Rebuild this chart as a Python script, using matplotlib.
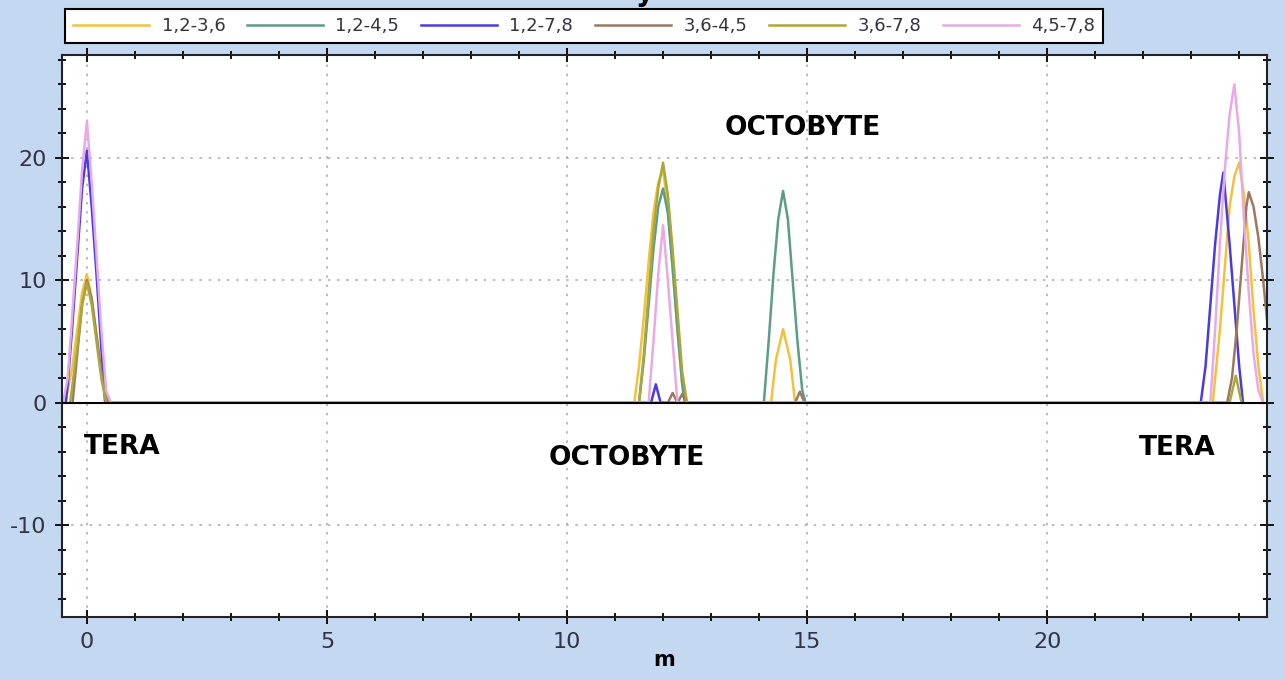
import matplotlib.pyplot as plt
from matplotlib.ticker import MultipleLocator

plt.rcParams['font.family'] = ['DejaVu Sans']
plt.rcParams['axes.unicode_minus'] = False

labels = ['1,2-3,6', '1,2-4,5', '1,2-7,8', '3,6-4,5', '3,6-7,8', '4,5-7,8']
colors = ['#f2c23c', '#5c9c88', '#4a3ae0', '#9c7860', '#a9a83a', '#e8aae6']

# each series: x points and y points (peaks near 0, 12, 14.5 and 24 m)
x_a = [-0.45, -0.3, -0.2, -0.1, 0.0, 0.1, 0.2, 0.3, 0.4,
       11.4, 11.5, 11.6, 11.7, 11.8, 11.9, 12.0, 12.1, 12.2, 12.3, 12.4, 12.5,
       14.25, 14.35, 14.5, 14.65, 14.75,
       23.45, 23.6, 23.7, 23.8, 23.9, 24.0, 24.1, 24.2, 24.3, 24.4, 24.5]
y_a = [0, 3, 6, 9, 10.5, 8.5, 5.5, 2.5, 0,
       0, 3, 7, 11.5, 15.5, 18, 19, 16, 11, 6, 1.5, 0,
       0, 3.5, 6, 3.5, 0,
       0, 6, 11, 16, 18.5, 19.6, 17, 13, 7.5, 3, 0]

x_b = [11.5, 11.6, 11.7, 11.8, 11.9, 12.0, 12.1, 12.2, 12.3, 12.4, 12.45,
       14.1, 14.2, 14.3, 14.4, 14.5, 14.6, 14.7, 14.8, 14.9, 14.97]
y_b = [0, 3.5, 8, 12.5, 16, 17.5, 15.5, 11, 6, 1.5, 0,
       0, 5, 10.5, 15, 17.3, 15, 10, 5, 1, 0]

x_c = [-0.44, -0.4, -0.3, -0.2, -0.1, 0.0, 0.1, 0.2, 0.3, 0.38,
       11.75, 11.85, 11.95,
       23.2, 23.3, 23.4, 23.5, 23.6, 23.67, 23.8, 23.9, 24.0, 24.08]
y_c = [0, 1.5, 6.5, 12, 17.5, 20.6, 16, 10.5, 4.5, 0,
       0, 1.5, 0,
       0, 3, 8, 13, 17, 18.8, 13, 8, 3, 0]

x_d = [-0.3, -0.2, -0.1, 0.0, 0.1, 0.2, 0.3, 0.4, 0.45,
       12.1, 12.2, 12.3, 12.4, 12.5,
       14.75, 14.85, 14.95,
       23.75, 23.85, 23.95, 24.05, 24.15, 24.2, 24.3, 24.4, 24.5, 24.6]
y_d = [0, 4, 8, 10, 8.5, 5.5, 2.5, 0.5, 0,
       0, 0.8, 0, 0.7, 0,
       0, 0.9, 0,
       0, 2, 6, 11, 16, 17.2, 16, 13.5, 10, 6]

x_e = [-0.35, -0.2, -0.1, 0.0, 0.1, 0.2, 0.3, 0.4,
       11.5, 11.6, 11.7, 11.8, 11.9, 12.0, 12.1, 12.2, 12.3, 12.4, 12.5,
       23.8, 23.93, 24.05]
y_e = [0, 4.5, 8, 9.8, 8, 5, 2, 0,
       0, 4, 9, 14, 17.5, 19.6, 17, 12.5, 7.5, 2.5, 0,
       0, 2.2, 0]

x_f = [-0.5, -0.4, -0.3, -0.2, -0.1, 0.0, 0.1, 0.2, 0.3, 0.4, 0.5,
       11.7, 11.8, 11.9, 12.0, 12.1, 12.2, 12.3,
       23.4, 23.5, 23.6, 23.7, 23.8, 23.9, 24.0, 24.1, 24.2, 24.3, 24.4, 24.5]
y_f = [0, 2, 7.5, 13, 19, 23, 18, 12, 6, 1, 0,
       0, 5, 10.5, 14.5, 10, 5, 0,
       0, 6, 13, 19, 23.5, 26, 22, 15, 9, 4, 1, 0]

xs = [x_a, x_b, x_c, x_d, x_e, x_f]
ys = [y_a, y_b, y_c, y_d, y_e, y_f]

fig = plt.figure(figsize=(12.85, 6.8), dpi=100, facecolor='#c4d8f2')
ax = fig.add_axes([0.0482, 0.0926, 0.9378, 0.8265])
ax.set_facecolor('white')

for x, y, lab, c in zip(xs, ys, labels, colors):
    ax.plot(x, y, color=c, lw=1.8, label=lab)

ax.axhline(0, color='black', lw=1.5, zorder=5)

ax.set_xlim(-0.52, 24.58)
ax.set_ylim(-17.5, 28.4)
ax.xaxis.set_major_locator(MultipleLocator(5))
ax.xaxis.set_minor_locator(MultipleLocator(1))
ax.yaxis.set_major_locator(MultipleLocator(10))
ax.yaxis.set_minor_locator(MultipleLocator(2))
ax.grid(True, which='major', color='#b0b0b0', linestyle=(0, (1.5, 4)), lw=1.2)

ax.tick_params(which='both', direction='inout', top=True, right=True,
               labelsize=16, labelcolor='#333344', width=1.3)
ax.tick_params(which='major', length=10, pad=6)
ax.tick_params(which='minor', length=6)
for s in ax.spines.values():
    s.set_linewidth(1.5)
    s.set_color('#222222')

ax.set_xlabel('m', fontsize=15, fontweight='bold', labelpad=-2)

ax.text(14.92, 22.4, 'OCTOBYTE', fontsize=19, fontweight='bold', ha='center', va='center')
ax.text(11.25, -4.5, 'OCTOBYTE', fontsize=19, fontweight='bold', ha='center', va='center')
ax.text(0.73, -3.6, 'TERA', fontsize=19, fontweight='bold', ha='center', va='center')
ax.text(22.7, -3.7, 'TERA', fontsize=19, fontweight='bold', ha='center', va='center')

# title is cut off at the top edge in the original, only the descender shows
fig.text(0.502, 0.998, 'y', fontsize=20, fontweight='bold', ha='center', va='baseline')

leg = fig.legend(loc='upper left', bbox_to_anchor=(65 / 1285, 1 - 9 / 680), ncol=6,
                 fontsize=13, handlelength=4.2, columnspacing=1.2, handletextpad=0.7,
                 borderpad=0.45, borderaxespad=0, frameon=True, fancybox=False,
                 framealpha=1)
leg.get_frame().set_edgecolor('black')
leg.get_frame().set_linewidth(1.5)
for t in leg.get_texts():
    t.set_color('#333344')

fig.savefig('out.png', dpi=100, facecolor=fig.get_facecolor())
